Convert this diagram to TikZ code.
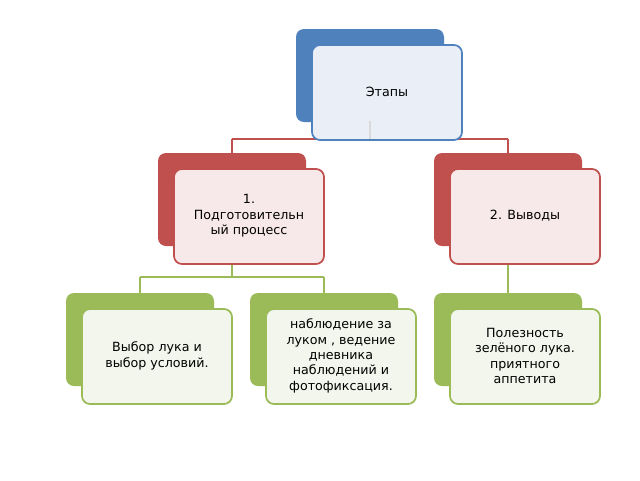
\documentclass[tikz,border=0pt]{standalone}
\usepackage{fontspec}
\setmainfont{DejaVu Sans}
\begin{document}
\begin{tikzpicture}[x=0.75pt,y=-0.75pt,
  back/.style={rounded corners=6pt,draw=none},
  front/.style={rounded corners=6pt,line width=1.3pt,font=\fontsize{9.5}{11.5}\selectfont,align=center},
  conn/.style={line width=1.3pt}]
\definecolor{bb}{HTML}{4F81BD}\definecolor{rr}{HTML}{C0504D}\definecolor{gg}{HTML}{9BBB59}
\definecolor{bl}{HTML}{EAEFF7}\definecolor{rl}{HTML}{F7E9E9}\definecolor{gl}{HTML}{F2F6EC}
\useasboundingbox (0,0) rectangle (640,480);
\newcommand\stagebox[8]{% name, x, y, backcol, frontcol, bordercol, text
  \fill[back,#4] (#2,#3) rectangle ++(148,93);
  \draw[front,draw=#6,fill=#5] (#2+16,#3+16) rectangle ++(150,95);
  \node[font=\fontsize{9.5}{11.5}\selectfont,align=center] (#1) at (#2+91,#3+63) {#7};
  \coordinate (#1t) at (#2+91,#3+16); \coordinate (#1b) at (#2+91,#3+111);}
% connectors
\coordinate (h1l) at (232,139); \coordinate (h1r) at (508,139);
\draw[conn,rr] (h1l) -- (h1r);
\draw[conn,rr] (h1l) -- (232,153); \draw[conn,rr] (h1r) -- (508,153);
\draw[conn,gg] (232,264) -- (232,277) (140,277) -- (324,277) (140,277) -- (140,293) (324,277) -- (324,293);
\draw[conn,gg] (508,264) -- (508,293);
\stagebox{top}{296}{29}{bb}{bl}{bb}{Этапы}{}
\draw[conn,gray!30] (370,121) -- (370,139);
\stagebox{a}{158}{153}{rr}{rl}{rr}{1.\\Подготовительн\\ый процесс}{}
\stagebox{b}{434}{153}{rr}{rl}{rr}{2. Выводы}{}
\stagebox{c}{66}{293}{gg}{gl}{gg}{Выбор лука и\\выбор условий.}{}
\stagebox{d}{250}{293}{gg}{gl}{gg}{наблюдение за\\луком , ведение\\дневника\\наблюдений и\\фотофиксация.}{}
\stagebox{e}{434}{293}{gg}{gl}{gg}{Полезность\\зелёного лука.\\приятного\\аппетита}{}
\end{tikzpicture}
\end{document}
